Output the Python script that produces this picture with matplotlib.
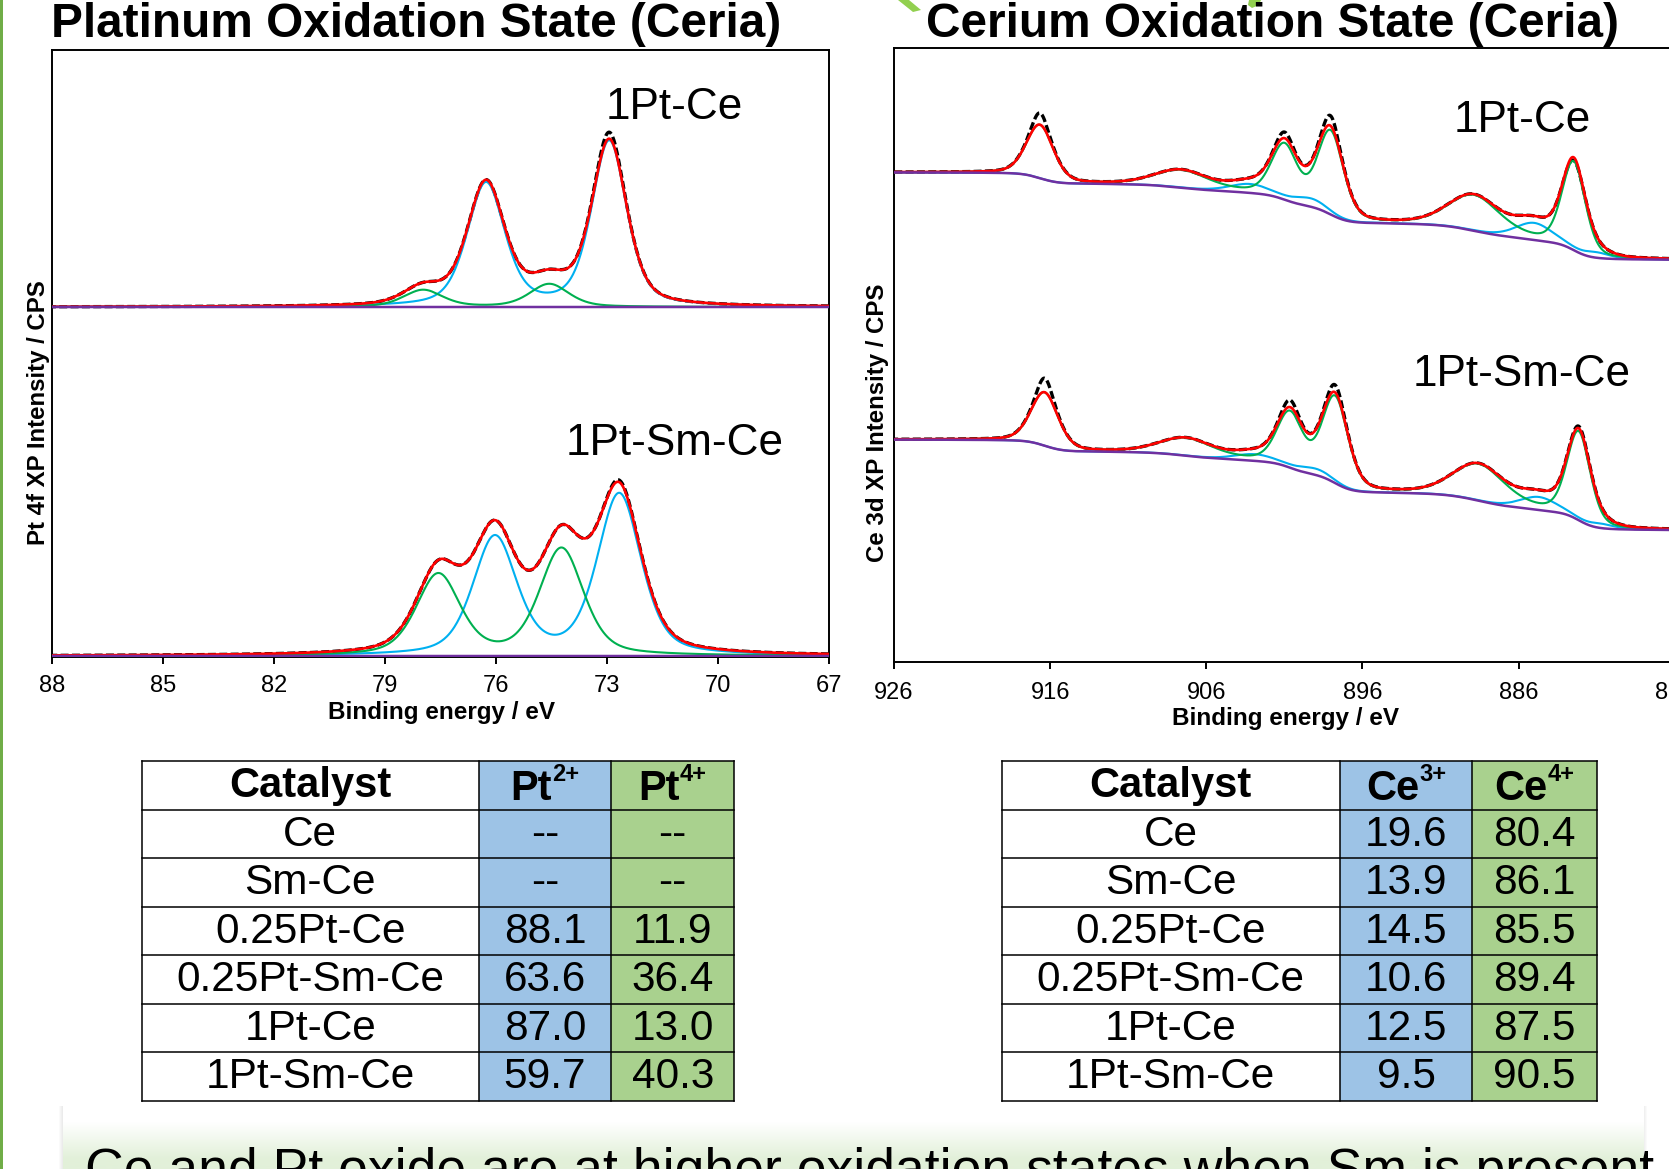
import numpy as np
import matplotlib.pyplot as plt
from matplotlib.patches import Rectangle, Polygon

plt.rcParams['font.family'] = ['Liberation Sans', 'DejaVu Sans']

W, H = 1669, 1169

'''
Pt 4f fits: centre (eV), height (a.u.), FWHM (eV)
'''
pt_ce_pt2_pos = [72.94, 76.27]
pt_ce_pt2_h = [165, 123]
pt_ce_pt2_w = [1.12, 1.2]
pt_ce_pt4_pos = [74.56, 77.97]
pt_ce_pt4_h = [23, 17]
pt_ce_pt4_w = [1.25, 1.25]
pt_ce_extra_pos = [72.95]
pt_ce_extra_h = [6.5]

pt_smce_pt2_pos = [72.67, 76.03]
pt_smce_pt2_h = [161, 118]
pt_smce_pt2_w = [1.4, 1.4]
pt_smce_pt4_pos = [74.23, 77.56]
pt_smce_pt4_h = [107, 81]
pt_smce_pt4_w = [1.4, 1.4]
pt_smce_extra_pos = [72.7]
pt_smce_extra_h = [2.0]

pt_baselines = [350, 1]

'''
Ce 3d fits: Ce4+ and Ce3+ components, Shirley end levels (low BE, high BE)
'''
ce_ce_ce4_pos = [916.65, 907.6, 901.0, 898.04, 888.85, 882.47]
ce_ce_ce4_h = [53, 17, 53.5, 82, 35, 88]
ce_ce_ce4_w = [2.05, 4.0, 1.95, 1.95, 3.9, 1.75]
ce_ce_ce3_pos = [903.2, 899.3, 885.0, 881.0]
ce_ce_ce3_h = [8.7, 8, 17, 5]
ce_ce_ce3_w = [3.0, 2.5, 2.8, 2.0]
ce_ce_extra_pos = [916.65, 901.0, 898.04, 882.47]
ce_ce_extra_h = [11.7, 6, 10, -3]
ce_ce_bg = [402.3, 489.6]

ce_smce_ce4_pos = [916.35, 907.3, 900.65, 897.75, 888.55, 882.15]
ce_smce_ce4_h = [53, 17, 53.5, 85, 36, 88]
ce_smce_ce4_w = [2.05, 4.0, 1.95, 1.95, 3.9, 1.75]
ce_smce_ce3_pos = [902.9, 899.0, 884.7, 880.7]
ce_smce_ce3_h = [6.5, 6, 13, 4]
ce_smce_ce3_w = [3.0, 2.5, 2.8, 2.0]
ce_smce_extra_pos = [916.35, 900.65, 897.75, 882.15]
ce_smce_extra_h = [14, 7, 7.4, 2]
ce_smce_bg = [132.0, 222.4]

'''
Tables
'''
catalysts = ['Ce', 'Sm-Ce', '0.25Pt-Ce', '0.25Pt-Sm-Ce', '1Pt-Ce', '1Pt-Sm-Ce']
pt2_pct = ['--', '--', '88.1', '63.6', '87.0', '59.7']
pt4_pct = ['--', '--', '11.9', '36.4', '13.0', '40.3']
ce3_pct = ['19.6', '13.9', '14.5', '10.6', '12.5', '9.5']
ce4_pct = ['80.4', '86.1', '85.5', '89.4', '87.5', '90.5']

C_RED, C_BLUE, C_GREEN, C_PURPLE = '#FF0000', '#00B0F0', '#00B050', '#7030A0'
CELL_BLUE, CELL_GREEN = '#9DC3E6', '#A9D18E'


def pv(x, c, h, w, eta):
	d = (x - c) / w
	return h * ((1 - eta) * np.exp(-4 * np.log(2) * d**2) + eta / (1 + 4 * d**2))


def peaks(x, pos, hts, wid, eta):
	return sum(pv(x, c, h, w, eta) for c, h, w in zip(pos, hts, wid))


fig = plt.figure(figsize=(W / 100, H / 100), dpi=100)

# full-figure overlay in pixel units for titles, tables and the slide box
ov = fig.add_axes([0, 0, 1, 1])
ov.axis('off')

ov.add_patch(Rectangle((0, 0), 3, H, color='#70AD47', lw=0))
ov.add_patch(Polygon([(898, 0), (909, 0), (921, 10), (913, 12)], closed=True, color='#92D050', lw=0))
ov.add_patch(Polygon([(1249, 0), (1261, 0), (1259, 5), (1252, 8), (1248, 5)], closed=True, color='#92D050', lw=0))

ov.text(51, 37, 'Platinum Oxidation State (Ceria)', fontsize=34.4, fontweight='bold', va='baseline', ha='left')
ov.text(926, 37, 'Cerium Oxidation State (Ceria)', fontsize=34.4, fontweight='bold', va='baseline', ha='left')

ov.text(38, 413, 'Pt 4f XP Intensity / CPS', fontsize=17.3, fontweight='bold', rotation=90, ha='center', va='center')
ov.text(877, 423, 'Ce 3d XP Intensity / CPS', fontsize=17.3, fontweight='bold', rotation=90, ha='center', va='center')
ov.text(441, 712, 'Binding energy / eV', fontsize=17.5, fontweight='bold', ha='center', va='center')
ov.text(1285, 719, 'Binding energy / eV', fontsize=17.5, fontweight='bold', ha='center', va='center')

# slide text box with a soft side shadow and green fade
for k in range(5):
	ov.add_patch(Rectangle((63 - k, 1106), 1580 + 2 * k, 80, color='#000000', alpha=0.018, lw=0))
ov.add_patch(Rectangle((63, 1102), 1580, 80, color='white', lw=0))
ys = np.linspace(0, 1, 60)
fade = np.clip((ys - 0.3) / 0.55, 0, 1)[:, None, None]
top_rgb = np.array([1.0, 1.0, 1.0])
bot_rgb = np.array([226, 240, 217]) / 255
grad = top_rgb * (1 - fade) + bot_rgb * fade
ov.imshow(grad, extent=[63, 1643, 1169, 1102], aspect='auto', zorder=2)
box = Rectangle((63, 1102), 1580, 80, fill=False, lw=0)
ov.add_patch(box)
msg = ov.text(85, 1186, 'Ce and Pt oxide are at higher oxidation states when Sm is present',
	fontsize=38.5, va='baseline', ha='left', zorder=3)
msg.set_clip_path(box)


def draw_table(x_edges, top, row_h, head, sups, col1, col2):
	nrows = len(catalysts) + 1
	fills = ['white', CELL_BLUE, CELL_GREEN]
	for j in range(3):
		ov.add_patch(Rectangle((x_edges[j], top), x_edges[j + 1] - x_edges[j], row_h * nrows,
			facecolor=fills[j], edgecolor='none', zorder=3))
	for i in range(nrows + 1):
		ov.plot([x_edges[0], x_edges[-1]], [top + i * row_h] * 2, color='black', lw=1.1, zorder=4)
	for xe in x_edges:
		ov.plot([xe, xe], [top, top + nrows * row_h], color='black', lw=1.1, zorder=4)
	cx = [(x_edges[j] + x_edges[j + 1]) / 2 for j in range(3)]
	ov.text(cx[0], top + row_h / 2 + 1, 'Catalyst', fontsize=30, fontweight='bold', ha='center', va='center', zorder=5)
	r = fig.canvas.get_renderer()
	for j in (1, 2):
		t1 = ov.text(0, top + 39, head, fontsize=30, fontweight='bold', ha='left', va='baseline', zorder=5)
		t2 = ov.text(0, top + 20, sups[j - 1], fontsize=17, fontweight='bold', ha='left', va='baseline', zorder=5)
		w1 = t1.get_window_extent(r).width
		w2 = t2.get_window_extent(r).width
		x0 = cx[j] - (w1 + w2) / 2
		t1.set_x(x0)
		t2.set_x(x0 + w1)
	for i, (name, a, b) in enumerate(zip(catalysts, col1, col2)):
		yc = top + (i + 1.5) * row_h + 1
		ov.text(cx[0], yc, name, fontsize=30.5, ha='center', va='center', zorder=5)
		ov.text(cx[1], yc, a, fontsize=30.5, ha='center', va='center', zorder=5)
		ov.text(cx[2], yc, b, fontsize=30.5, ha='center', va='center', zorder=5)


draw_table([141.6, 479, 611, 734.4], 761, 48.5, 'Pt', ['2+', '4+'], pt2_pct, pt4_pct)
draw_table([1001.6, 1340, 1472, 1596.6], 761, 48.5, 'Ce', ['3+', '4+'], ce3_pct, ce4_pct)

ov.set_xlim(0, W)
ov.set_ylim(H, 0)


def style_axes(ax, pad):
	for s in ax.spines.values():
		s.set_linewidth(1.4)
	ax.set_yticks([])
	ax.tick_params(axis='x', direction='out', length=5, width=1.4, labelsize=17, pad=pad)


'''
Pt 4f panel
'''
ax1 = fig.add_axes([52 / W, 1 - 657 / H, 777 / W, 607 / H])
x = np.linspace(67, 88, 1200)
pt_sets = [
	(pt_ce_pt2_pos, pt_ce_pt2_h, pt_ce_pt2_w, pt_ce_pt4_pos, pt_ce_pt4_h, pt_ce_pt4_w, pt_ce_extra_pos, pt_ce_extra_h),
	(pt_smce_pt2_pos, pt_smce_pt2_h, pt_smce_pt2_w, pt_smce_pt4_pos, pt_smce_pt4_h, pt_smce_pt4_w, pt_smce_extra_pos, pt_smce_extra_h),
]
for base, (p2, h2, w2, p4, h4, w4, pe, he) in zip(pt_baselines, pt_sets):
	blue = peaks(x, p2, h2, w2, 0.45)
	green = peaks(x, p4, h4, w4, 0.45)
	extra = peaks(x, pe, he, [0.6] * len(pe), 0.3)
	fit = blue + green
	ax1.plot(x, base + fit + extra, color='black', lw=2.4, ls=(0, (2.4, 1.0)), zorder=2)
	ax1.plot(x, base + blue, color=C_BLUE, lw=1.5, zorder=3)
	ax1.plot(x, base + green, color=C_GREEN, lw=1.5, zorder=3)
	ax1.plot(x, base + fit, color=C_RED, lw=1.9, zorder=4)
	ax1.plot(x, base + 0 * x, color=C_PURPLE, lw=1.8, zorder=5)
ax1.set_xlim(88, 67)
ax1.set_ylim(0, 607)
ax1.set_xticks([88, 85, 82, 79, 76, 73, 70, 67])
style_axes(ax1, 8)
ax1.text(0.801, 0.905, '1Pt-Ce', transform=ax1.transAxes, fontsize=31.8, ha='center', va='center')
ax1.text(0.801, 0.352, '1Pt-Sm-Ce', transform=ax1.transAxes, fontsize=31.8, ha='center', va='center')

'''
Ce 3d panel
'''
ax2 = fig.add_axes([894 / W, 1 - 662 / H, 780.7 / W, 614 / H])
e = np.linspace(876, 926, 2000)
ce_sets = [
	(ce_ce_ce4_pos, ce_ce_ce4_h, ce_ce_ce4_w, ce_ce_ce3_pos, ce_ce_ce3_h, ce_ce_ce3_w, ce_ce_extra_pos, ce_ce_extra_h, ce_ce_bg),
	(ce_smce_ce4_pos, ce_smce_ce4_h, ce_smce_ce4_w, ce_smce_ce3_pos, ce_smce_ce3_h, ce_smce_ce3_w, ce_smce_extra_pos, ce_smce_extra_h, ce_smce_bg),
]
for p4, h4, w4, p3, h3, w3, pe, he, (lo, hi) in ce_sets:
	ce4 = peaks(e, p4, h4, w4, 0.3)
	ce3 = peaks(e, p3, h3, w3, 0.3)
	extra = peaks(e, pe, he, [1.0] * len(pe), 0.3)
	fit = ce4 + ce3
	# Shirley background from the cumulative fitted area
	area = np.cumsum(fit)
	bg = lo + (hi - lo) * area / area[-1]
	ax2.plot(e, bg + fit + extra, color='black', lw=2.4, ls=(0, (2.4, 1.0)), zorder=2)
	ax2.plot(e, bg + ce3, color=C_BLUE, lw=1.5, zorder=3)
	ax2.plot(e, bg + ce4, color=C_GREEN, lw=1.5, zorder=3)
	ax2.plot(e, bg + fit, color=C_RED, lw=1.9, zorder=4)
	ax2.plot(e, bg, color=C_PURPLE, lw=1.8, zorder=5)
ax2.set_xlim(926, 876)
ax2.set_ylim(0, 614)
ax2.set_xticks([926, 916, 906, 896, 886, 876])
style_axes(ax2, 9.5)
ax2.text((1522 - 894) / 780.7, (662 - 120) / 614, '1Pt-Ce', transform=ax2.transAxes, fontsize=31.8, ha='center', va='center')
ax2.text((1522 - 894) / 780.7, (662 - 374) / 614, '1Pt-Sm-Ce', transform=ax2.transAxes, fontsize=31.8, ha='center', va='center')

fig.savefig('out.png', dpi=100)
